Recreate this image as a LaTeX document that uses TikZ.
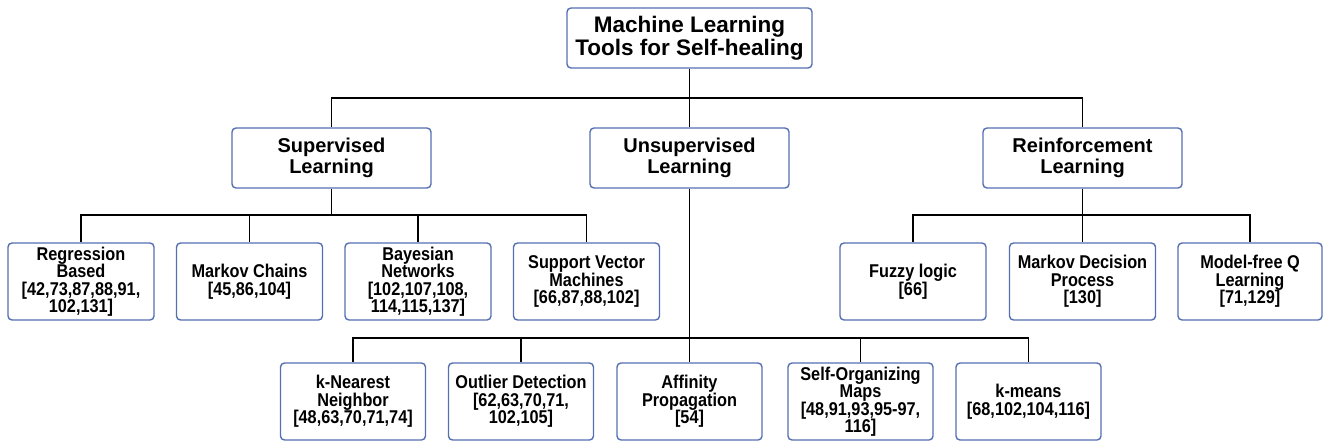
\documentclass[tikz,border=0pt]{standalone}
\usepackage{fontspec}
\setmainfont{Liberation Sans}
\newfontfamily\leaffont[FakeStretch=0.88]{Liberation Sans}
\definecolor{boxblue}{RGB}{84,112,178}
\begin{document}
\begin{tikzpicture}[x=1pt,y=-1pt,
  box/.style={draw=boxblue,line width=1.4pt,fill=white,rounded corners=4pt,align=center,inner sep=1pt,font=\bfseries},
  topbox/.style={box,minimum width=245pt,minimum height=60pt,font=\bfseries\fontsize{22.5}{23}\selectfont},
  midbox/.style={box,minimum width=199pt,minimum height=60pt,font=\bfseries\fontsize{20}{21}\selectfont},
  leafbox/.style={box,minimum width=146pt,minimum height=77pt,font=\leaffont\bfseries\fontsize{18.5}{17.5}\selectfont},
  conn/.style={draw=black,line width=1.8pt}]
\useasboundingbox (0,0) rectangle (1323,445);
\fill[white] (0,0) rectangle (1323,445);
\coordinate (b1) at (689.5,98);
\coordinate (b2) at (331.5,215);
\coordinate (b3) at (1082.5,215);
\coordinate (b4) at (689.5,338);
\node[topbox] (top) at (689.5,38) {Machine Learning\\Tools for Self-healing};
\node[midbox] (sup) at (331.5,158) {Supervised\\Learning};
\node[midbox] (uns) at (689.5,158) {Unsupervised\\Learning};
\node[midbox] (rei) at (1082.5,158) {Reinforcement\\Learning};
\node[leafbox] (reg) at (81,281.5) {Regression\\Based\\{[}42,73,87,88,91,\\102,131{]}};
\node[leafbox] (mc) at (249.5,281.5) {Markov Chains\\{[}45,86,104{]}};
\node[leafbox] (bn) at (418,281.5) {Bayesian\\Networks\\{[}102,107,108,\\114,115,137{]}};
\node[leafbox] (svm) at (586.5,281.5) {Support Vector\\Machines\\{[}66,87,88,102{]}};
\node[leafbox] (fz) at (913,281.5) {Fuzzy logic\\{[}66{]}};
\node[leafbox] (mdp) at (1082.5,281.5) {Markov Decision\\Process\\{[}130{]}};
\node[leafbox,minimum width=144pt] (mfq) at (1250,281.5) {Model-free Q\\Learning\\{[}71,129{]}};
\node[leafbox,minimum width=145pt] (knn) at (353,401.5) {k-Nearest\\Neighbor\\{[}48,63,70,71,74{]}};
\node[leafbox,minimum width=145pt] (od) at (521,401.5) {Outlier Detection\\{[}62,63,70,71,\\102,105{]}};
\node[leafbox,minimum width=145pt] (ap) at (689.5,401.5) {Affinity\\Propagation\\{[}54{]}};
\node[leafbox,minimum width=145pt] (som) at (860.5,401.5) {Self-Organizing\\Maps\\{[}48,91,93,95-97,\\116{]}};
\node[leafbox,minimum width=145pt] (km) at (1028.5,401.5) {k-means\\{[}68,102,104,116{]}};
\draw[conn] (top.south) -- (uns.north);
\draw[conn] (b1) -| (sup.north);
\draw[conn] (b1) -| (rei.north);
\draw[conn] (sup.south) -- (b2);
\foreach \n in {reg,mc,bn,svm} \draw[conn] (b2) -| (\n.north);
\draw[conn] (rei.south) -- (b3);
\foreach \n in {fz,mdp,mfq} \draw[conn] (b3) -| (\n.north);
\draw[conn] (uns.south) -- (b4);
\foreach \n in {knn,od,ap,som,km} \draw[conn] (b4) -| (\n.north);
\end{tikzpicture}
\end{document}
